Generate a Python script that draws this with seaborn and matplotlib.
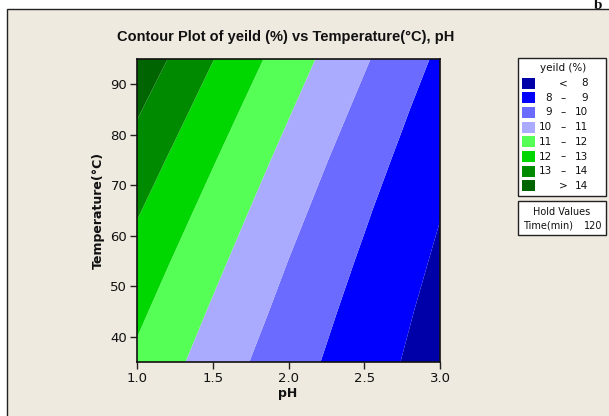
import numpy as np
import matplotlib
matplotlib.use('Agg')
import matplotlib.pyplot as plt
from matplotlib.patches import Rectangle
import seaborn as sns

# grid (pH across, Temperature down)
ph = [1.0, 1.25, 1.5, 1.75, 2.0, 2.25, 2.5, 2.75, 3.0]
temp = [35, 45, 55, 65, 75, 85, 95]
yld = [
    [11.81, 11.17, 10.56, 9.98, 9.44, 8.92, 8.44, 7.98, 7.56],
    [12.20, 11.53, 10.89, 10.28, 9.70, 9.15, 8.63, 8.14, 7.69],
    [12.63, 11.92, 11.25, 10.61, 9.99, 9.41, 8.86, 8.34, 7.85],
    [13.09, 12.35, 11.64, 10.97, 10.32, 9.70, 9.12, 8.56, 8.04],
    [13.58, 12.81, 12.07, 11.36, 10.68, 10.03, 9.41, 8.83, 8.27],
    [14.11, 13.31, 12.53, 11.79, 11.08, 10.40, 9.74, 9.12, 8.53],
    [14.68, 13.84, 13.03, 12.25, 11.51, 10.79, 10.11, 9.45, 8.83],
]
levels = [0, 8, 9, 10, 11, 12, 13, 14, 30]
colors = ['#0000A8', '#0000FF', '#6B6BFF', '#AAAAFF',
          '#55FF55', '#00D600', '#008A00', '#006400']
leg_lo = ['', '8', '9', '10', '11', '12', '13', '']
leg_mid = ['<', '–', '–', '–', '–', '–', '–', '>']
leg_hi = ['8', '9', '10', '11', '12', '13', '14', '14']

W, H = 609, 416
bg = '#EEEAE0'

sns.set_theme(style='ticks')
plt.rcParams['font.family'] = ['DejaVu Sans']
plt.rcParams['text.color'] = '#111111'

fig = plt.figure(figsize=(W / 100, H / 100), dpi=100)
fig.patch.set_facecolor('white')


def fx(x):
    return x / W


def fy(y):
    return 1 - y / H


# panel background + frame
fig.patches.append(Rectangle((fx(7), fy(430)), fx(620), fy(9) - fy(430),
                             transform=fig.transFigure, facecolor=bg,
                             edgecolor='#222222', lw=1.0, zorder=-10))
fig.text(fx(598), fy(9), 'b', fontfamily='Liberation Serif', fontweight='bold',
         fontsize=11, ha='center', va='baseline')

ax = fig.add_axes([fx(137), fy(362), fx(440) - fx(137), fy(59) - fy(362)])
ax.set_zorder(5)
X, Y = np.meshgrid(ph, temp)
ax.contourf(X, Y, np.array(yld), levels=levels, colors=colors, antialiased=True)
ax.set_xlim(1.0, 3.0)
ax.set_ylim(35, 95)
ax.set_xticks([1.0, 1.5, 2.0, 2.5, 3.0])
ax.set_xticklabels(['1.0', '1.5', '2.0', '2.5', '3.0'])
ax.set_yticks([40, 50, 60, 70, 80, 90])
ax.tick_params(direction='out', length=5, width=1, colors='#222222',
               labelsize=9.5, labelcolor='#111111', pad=2)
for s in ax.spines.values():
    s.set_color('#111111')
    s.set_linewidth(1.2)

fig.text(fx(286), fy(37), 'Contour Plot of yeild (%) vs Temperature(°C), pH',
         ha='center', va='center', fontsize=10.5, fontweight='bold',
         fontfamily='Liberation Sans')
fig.text(fx(98), fy(210), 'Temperature(°C)', rotation=90, ha='center',
         va='center', fontsize=9, fontweight='bold')
fig.text(fx(288), fy(394), 'pH', ha='center', va='center', fontsize=9,
         fontweight='bold')

# legend box
fig.patches.append(Rectangle((fx(518), fy(196)), fx(606) - fx(518), fy(58) - fy(196),
                             transform=fig.transFigure, facecolor='white',
                             edgecolor='#222222', lw=1.0))
fig.text(fx(563), fy(68), 'yeild (%)', ha='center', va='center', fontsize=7.5)
for i, c in enumerate(colors):
    yc = 83 + i * 14.7
    fig.patches.append(Rectangle((fx(522), fy(yc + 5.5)), fx(13), fy(0) - fy(11),
                                 transform=fig.transFigure, facecolor=c,
                                 edgecolor='none'))
    fig.text(fx(552), fy(yc), leg_lo[i], ha='right', va='center', fontsize=7.5)
    fig.text(fx(563), fy(yc), leg_mid[i], ha='center', va='center', fontsize=7.5)
    fig.text(fx(588), fy(yc), leg_hi[i], ha='right', va='center', fontsize=7.5)

# hold values box
fig.patches.append(Rectangle((fx(518), fy(235)), fx(606) - fx(518), fy(201) - fy(235),
                             transform=fig.transFigure, facecolor='white',
                             edgecolor='#222222', lw=1.0))
fig.text(fx(562), fy(212), 'Hold Values', ha='center', va='center', fontsize=7)
fig.text(fx(523), fy(226), 'Time(min)', ha='left', va='center', fontsize=7)
fig.text(fx(602), fy(226), '120', ha='right', va='center', fontsize=7)

fig.savefig('out.png', dpi=100)
